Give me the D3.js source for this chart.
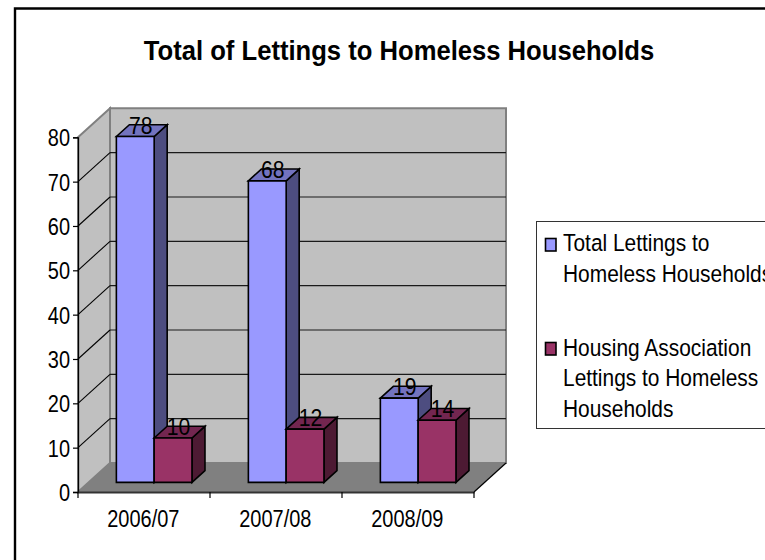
<!DOCTYPE html>
<html>
<head>
<meta charset="utf-8">
<script src="https://cdn.jsdelivr.net/npm/d3@7"></script>
<style>
html,body{margin:0;padding:0;background:#fff;overflow:hidden}
svg{display:block}
text{font-family:"Liberation Sans",Arial,sans-serif;fill:#000}
</style>
</head>
<body>
<svg id="chart" width="765" height="560"></svg>
<script>
const titleText = "Total of Lettings to Homeless Households";
const categories = ["2006/07", "2007/08", "2008/09"];
const totalLettings = [78, 68, 19];
const housingAssociation = [10, 12, 14];
const valueTicks = [0, 10, 20, 30, 40, 50, 60, 70, 80];

const legendLines = [["Total Lettings to", "Homeless Households"], ["Housing Association", "Lettings to Homeless", "Households"]];
const faceFills = [["#9999ff", "#7373bf", "#4d4d80"], ["#993366", "#732650", "#4d1a33"]];

const svg = d3.select("#chart");

// Text is set tall and narrow: a larger font squeezed horizontally
const squeeze = 0.85, labelSize = 23.5;
function label(px, py, str, anchor, size, sx) {
  return svg.append("text")
    .attr("transform", `translate(${px},${py}) scale(${sx || squeeze},1)`)
    .attr("text-anchor", anchor || "start").attr("font-size", size || labelSize).text(str);
}

// Chart frame: only its top and left edges fall inside the page
svg.append("path").attr("d", "M15,560V8.5H765").attr("fill", "none").attr("stroke", "#000").attr("stroke-width", 2.4);

label(399, 60, titleText, "middle", 28, 0.915).attr("font-weight", "bold");

// Oblique projection: the depth vector shifts a point from the front plane to the back wall
const depthX = 32, depthY = -29;
const x = d3.scaleBand().domain(categories).range([78, 474]);
const y = d3.scaleLinear().domain([0, 80]).range([492, 137.3]);
const bx = x.range()[1], left = x.range()[0];
const topV = 80;

const poly = (pts, fill, stroke, sw) => svg.append("polygon")
  .attr("points", pts.map(p => p.join(",")).join(" "))
  .attr("fill", fill).attr("stroke", stroke).attr("stroke-width", sw).attr("stroke-linejoin", "miter");

// Back wall, side wall and floor
poly([[left + depthX, y(topV) + depthY], [bx + depthX, y(topV) + depthY], [bx + depthX, y(0) + depthY], [left + depthX, y(0) + depthY]], "#c0c0c0", "#808080", 2);
poly([[left, y(topV)], [left + depthX, y(topV) + depthY], [left + depthX, y(0) + depthY], [left, y(0)]], "#c0c0c0", "#808080", 2);
poly([[left, y(0)], [left + depthX, y(0) + depthY], [bx + depthX, y(0) + depthY], [bx, y(0)]], "#808080", "none", 0);
svg.append("line").attr("x1", bx).attr("y1", y(0)).attr("x2", bx + depthX).attr("y2", y(0) + depthY)
  .attr("stroke", "#000").attr("stroke-width", 1.2);

// Gridlines run across the back wall and down the side wall
const grid = valueTicks.filter(v => v > 0 && v < 80);
svg.selectAll(".grid-back").data(grid).join("line")
  .attr("x1", left + depthX).attr("x2", bx + depthX)
  .attr("y1", d => y(d) + depthY).attr("y2", d => y(d) + depthY)
  .attr("stroke", "#1a1a1a").attr("stroke-width", 1.2);
svg.selectAll(".grid-side").data(grid).join("line")
  .attr("x1", left).attr("x2", left + depthX)
  .attr("y1", d => y(d)).attr("y2", d => y(d) + depthY)
  .attr("stroke", "#000").attr("stroke-width", 1.1);

// Axes
const yAxis = d3.axisLeft(y).tickValues(valueTicks).tickSize(5).tickPadding(2);
const yG = svg.append("g").attr("transform", `translate(${left},0)`).call(yAxis);
yG.select(".domain").attr("stroke", "#000").attr("stroke-width", 1.3);
yG.selectAll("line").attr("stroke", "#000").attr("stroke-width", 1.2);
yG.selectAll("text").attr("font-size", labelSize).attr("font-family", '"Liberation Sans"').attr("fill", "#000")
  .attr("dy", "0.36em").attr("x", -8 / squeeze).attr("transform", `scale(${squeeze},1)`);

const xAxis = d3.axisBottom(x).tickSize(0);
const xG = svg.append("g").attr("transform", `translate(0,${y(0)})`).call(xAxis);
xG.select(".domain").attr("stroke", "#333").attr("stroke-width", 2);
xG.selectAll("text").attr("font-size", labelSize).attr("font-family", '"Liberation Sans"').attr("fill", "#000")
  .attr("dy", 0).attr("y", 35).attr("x", -0.7 / squeeze).attr("transform", `scale(${squeeze},1)`);
svg.selectAll(".cat-tick").data(d3.range(categories.length + 1)).join("line")
  .attr("x1", i => left + i * x.step()).attr("x2", i => left + i * x.step())
  .attr("y1", y(0)).attr("y2", y(0) + 6).attr("stroke", "#000").attr("stroke-width", 1.2);

// 3D columns sit one third of the way into the floor
const front = 1 / 3, back = 0.74;
const inner = d3.scaleBand().domain([0, 1]).range([0, 75.6]);
const offsetFront = [depthX * front, depthY * front];
const offsetBack = [depthX * back, depthY * back];
const groupStart = c => x(c) + (x.bandwidth() - 75.6) / 2 + offsetFront[0] - 0.5;

function drawBar(cat, s, value) {
  const x0 = groupStart(cat) + inner(s), x1 = x0 + inner.bandwidth();
  const yb = y(0) + offsetFront[1], yt = y(value) + offsetFront[1];
  const dx = offsetBack[0] - offsetFront[0], dy = offsetBack[1] - offsetFront[1];
  const [fill, topFill, sideFill] = faceFills[s];
  poly([[x1, yt], [x1 + dx, yt + dy], [x1 + dx, yb + dy], [x1, yb]], sideFill, "#000", 1.6);
  poly([[x0, yt], [x0 + dx, yt + dy], [x1 + dx, yt + dy], [x1, yt]], topFill, "#000", 1.6);
  poly([[x0, yt], [x1, yt], [x1, yb], [x0, yb]], fill, "#000", 1.6);
  label(x0 + inner.bandwidth() / 2 + 5.5, yt - 3, value, "middle", labelSize, 0.9);
}
categories.forEach((c, i) => {
  drawBar(c, 0, totalLettings[i]);
  drawBar(c, 1, housingAssociation[i]);
});

// Legend box runs off the right side of the page
svg.append("rect").attr("x", 536.5).attr("y", 221.5).attr("width", 240).attr("height", 207)
  .attr("fill", "#fff").attr("stroke", "#333").attr("stroke-width", 1);
const swatchY = [238.5, 342.5], lineY = [[251, 282], [355.5, 386, 417]];
legendLines.forEach((lines, s) => {
  svg.append("rect").attr("x", 545.5).attr("y", swatchY[s]).attr("width", 10.5).attr("height", 12.5)
    .attr("fill", faceFills[s][0]).attr("stroke", "#000").attr("stroke-width", 1.6);
  lines.forEach((ln, i) => label(563, lineY[s][i], ln, "start", labelSize, 0.89));
});
</script>
</body>
</html>
